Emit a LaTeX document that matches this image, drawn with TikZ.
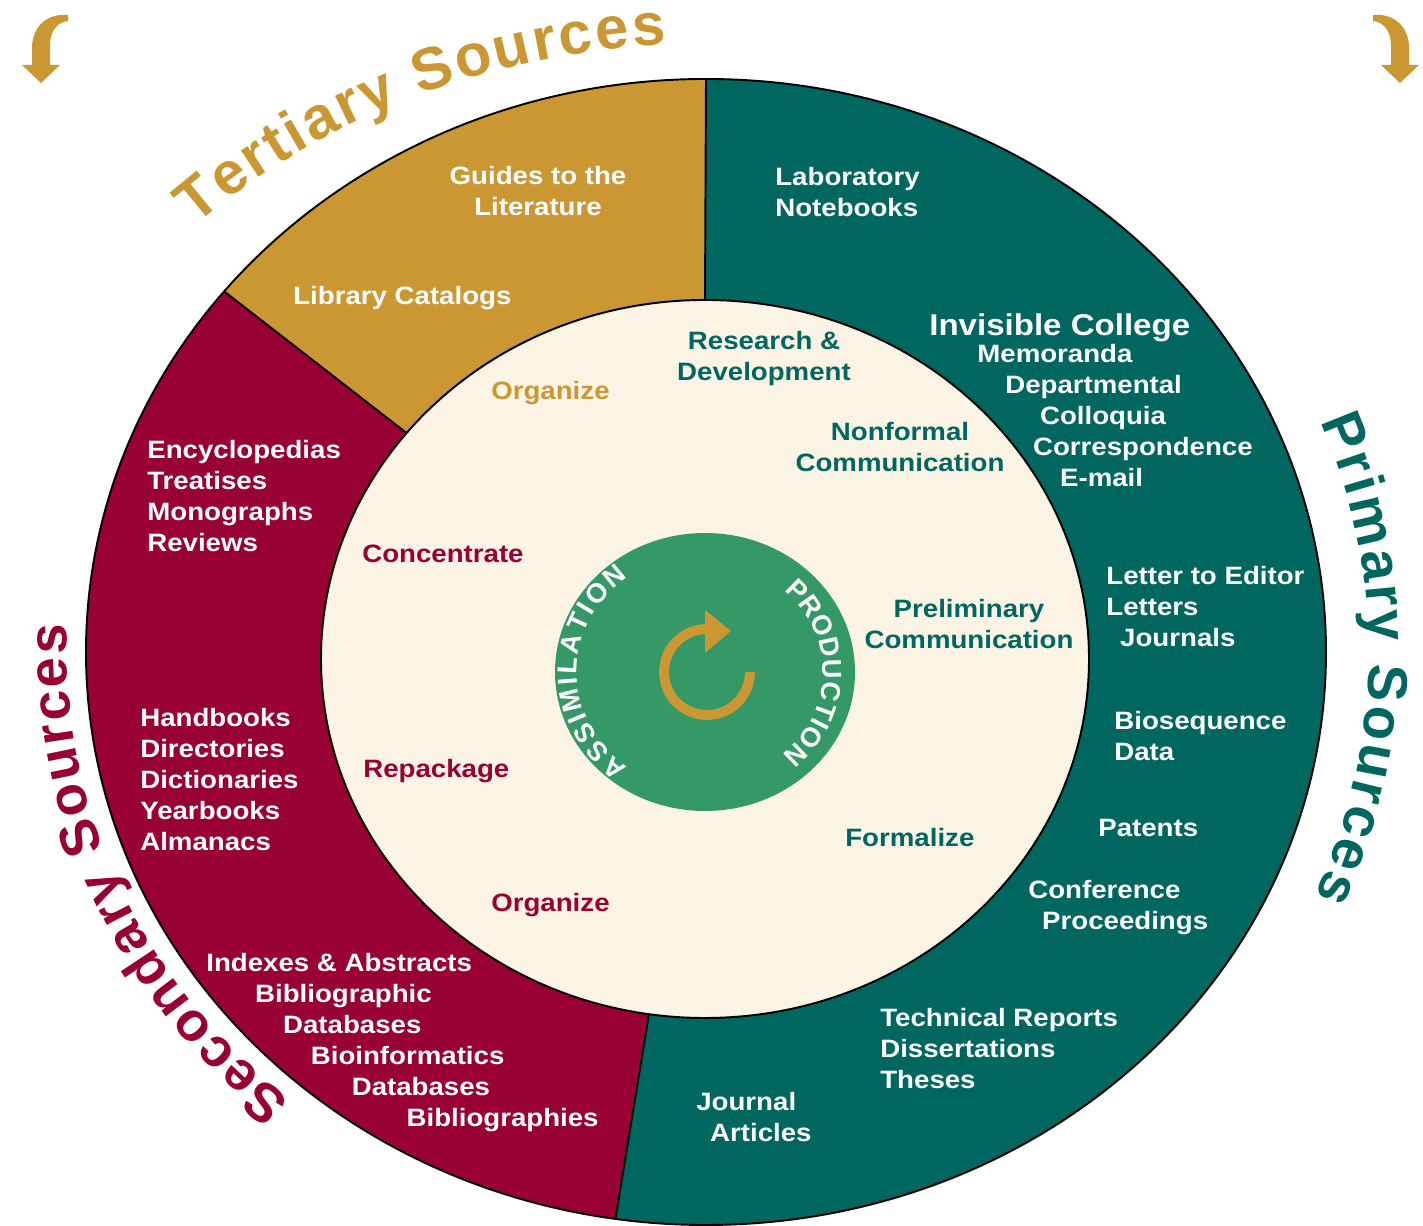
\documentclass[tikz,border=0pt]{standalone}
\usepackage{fontspec}
\setmainfont{Liberation Sans}
\newfontfamily\lab{Liberation Sans}[FakeStretch=1.1]
\newfontfamily\arcf{Liberation Sans}
\usetikzlibrary{decorations.text}
\definecolor{goldc}{RGB}{203,151,51}
\definecolor{tealc}{RGB}{0,102,96}
\definecolor{redc}{RGB}{153,0,51}
\definecolor{creamc}{RGB}{251,244,228}
\definecolor{greenc}{RGB}{52,153,102}
\tikzset{
  lbl/.style={font=\lab\bfseries\fontsize{14.3}{17.6}\selectfont, text=white, inner sep=0pt, align=left, anchor=north west, execute at begin node=\strut},
  lblc/.style={lbl, align=center, anchor=north},
  lblbig/.style={font=\lab\bfseries\fontsize{17.1}{20}\selectfont, text=white, inner sep=0pt, anchor=base west},
  outline/.style={draw=black, line width=1.1pt},
  bigarc/.style={decorate, decoration={text along path, text align={fit to path}, text={#1}}}
}
\begin{document}
\begin{tikzpicture}[x=0.02cm, y=0.02cm]
\useasboundingbox (0,0) rectangle (1423,1226);
\fill[white] (0,0) rectangle (1423,1226);

% ring
\fill[tealc] (706,574) ellipse [x radius=620, y radius=573];
\fill[goldc] (706,1147) arc[start angle=90, end angle=141, x radius=620, y radius=573] -- (406.6,792.9) arc[start angle=141, end angle=90, x radius=384, y radius=359] -- cycle;
\fill[redc] (224.2,934.6) arc[start angle=141, end angle=261.6, x radius=620, y radius=573] -- (648.9,211.8) arc[start angle=261.6, end angle=141, x radius=384, y radius=359] -- cycle;
\fill[creamc] (705,567) ellipse [x radius=384, y radius=359];
\draw[outline] (706,574) ellipse [x radius=620, y radius=573];
\draw[outline] (705,567) ellipse [x radius=384, y radius=359];
\coordinate (b1i) at (705,926);   \coordinate (b1o) at (706,1147);
\coordinate (b2i) at (406.6,792.9); \coordinate (b2o) at (224.2,934.6);
\coordinate (b3i) at (648.9,211.8); \coordinate (b3o) at (615.4,7.1);
\draw[outline] (b1i) -- (b1o);
\draw[outline] (b2i) -- (b2o);
\draw[outline] (b3i) -- (b3o);

% centre disc
\fill[greenc] (705,554) ellipse [x radius=150, y radius=139];
\draw[goldc, line width=5.67pt] (750,554) arc[start angle=0, end angle=-270, radius=43];
\fill[goldc] (705,616) -- (731,595) -- (705,573) -- cycle;
\path[bigarc={|\arcf\bfseries\fontsize{15.5}{18}\selectfont\color{white}|ASSIMILATION}] (628,459) arc[start angle=233, end angle=127, x radius=128, y radius=119];
\path[bigarc={|\arcf\bfseries\fontsize{15.5}{18}\selectfont\color{white}|PRODUCTION}] (784.0,635.7) arc[start angle=48, end angle=-49, x radius=118, y radius=110];

% curved titles
\path[bigarc={|\arcf\bfseries\fontsize{34}{40}\selectfont\color{goldc}|Tertiary Sources}] (196.0,1000.2) arc[start angle=135.5, end angle=93.2, x radius=715, y radius=608];
\path[bigarc={|\arcf\bfseries\fontsize{32}{38}\selectfont\color{tealc}|Primary Sources}] (1320.3,804.6) arc[start angle=22.1, end angle=-23.4, x radius=663, y radius=613];
\path[bigarc={|\arcf\bfseries\fontsize{31}{36}\selectfont\color{redc}|Secondary Sources}] (291.0,125.3) arc[start angle=229.5, end angle=177.3, x radius=639, y radius=590];

% corner arrows
\fill[goldc] (68,1211) .. controls (48,1213) and (32,1200) .. (32,1178) -- (32,1161) -- (22,1161) -- (41,1143) -- (60,1161) -- (50,1161) -- (50,1180) .. controls (50,1196) and (58,1204) .. (68,1205) -- cycle;
\begin{scope}[shift={(1441,0)}, xscale=-1]
\fill[goldc] (68,1211) .. controls (48,1213) and (32,1200) .. (32,1178) -- (32,1161) -- (22,1161) -- (41,1143) -- (60,1161) -- (50,1161) -- (50,1180) .. controls (50,1196) and (58,1204) .. (68,1205) -- cycle;
\end{scope}

% tertiary
\node[lblc] (guides) at (538,1059.7) {Guides to the\\Literature};
\node[lbl] (library) at (293,943.7) {Library Catalogs};

% primary
\node[lbl] (lab) at (775,1058.7) {Laboratory\\Notebooks};
\node[lblbig] (invis) at (929,890.2) {Invisible College};
\node[lbl] (memo) at (977,881.7) {Memoranda\\\hspace*{15.9pt}Departmental\\\hspace*{35.7pt}Colloquia\\\hspace*{31.7pt}Correspondence\\\hspace*{47.1pt}E-mail};
\node[lbl] (letter) at (1106,659.7) {Letter to Editor\\Letters\\\hspace*{7.9pt}Journals};
\node[lbl] (bio) at (1114,514.7) {Biosequence\\Data};
\node[lbl] (patents) at (1098,411.7) {Patents};
\node[lbl] (conf) at (1028,345.7) {Conference\\\hspace*{7.9pt}Proceedings};
\node[lbl] (tech) at (880,217.7) {Technical Reports\\Dissertations\\Theses};
\node[lbl] (journal) at (696,133.7) {Journal\\\hspace*{7.9pt}Articles};

% secondary
\node[lbl] (ency) at (147,785.7) {Encyclopedias\\Treatises\\Monographs\\Reviews};
\node[lbl] (hand) at (140,517.7) {Handbooks\\Directories\\Dictionaries\\Yearbooks\\Almanacs};
\node[lbl] (index) at (206,272.7) {Indexes \& Abstracts\\\hspace*{27.8pt}Bibliographic\\\hspace*{43.7pt}Databases\\\hspace*{59.5pt}Bioinformatics\\\hspace*{82.8pt}Databases\\\hspace*{114pt}Bibliographies};

% inner ring labels
\node[lbl, text=goldc] (org1) at (491,848.7) {Organize};
\node[lblc, text=tealc] (rnd) at (764,894.7) {Research \&\\Development};
\node[lblc, text=tealc] (nonf) at (900,803.7) {Nonformal\\Communication};
\node[lbl, text=redc] (conc) at (362,685.7) {Concentrate};
\node[lblc, text=tealc] (prelim) at (969,626.7) {Preliminary\\Communication};
\node[lbl, text=redc] (repack) at (363,470.7) {Repackage};
\node[lbl, text=tealc] (formal) at (845,401.7) {Formalize};
\node[lbl, text=redc] (org2) at (491,336.7) {Organize};
\end{tikzpicture}
\end{document}
